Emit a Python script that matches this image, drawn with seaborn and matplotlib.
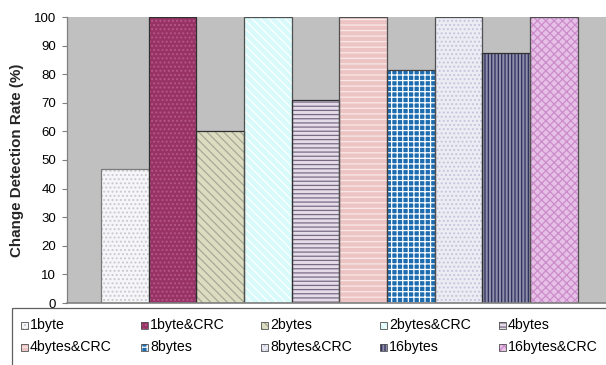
import matplotlib
matplotlib.use("Agg")
import matplotlib.pyplot as plt
from matplotlib.patches import Rectangle
import seaborn as sns
import pandas as pd

# Detection results per check size
series = ["1byte", "1byte&CRC", "2bytes", "2bytes&CRC", "4bytes",
          "4bytes&CRC", "8bytes", "8bytes&CRC", "16bytes", "16bytes&CRC"]
rates = [47, 100, 60, 100, 71, 100, 81.5, 100, 87.3, 100]
y_ticks = [0, 10, 20, 30, 40, 50, 60, 70, 80, 90, 100]

# Fill styling: base colour, pattern colour, pattern, outline
face_colors = ["#f6f6f8", "#993366", "#dcdcc0", "#d8fafa", "#e4dce6",
               "#ecc4c4", "#1e6cb0", "#ececf4", "#8e8eaa", "#e6c0e6"]
hatch_colors = ["#c8c8d0", "#b4588a", "#a8a898", "#ffffff", "#7a6a88",
                "#fbe8e8", "#ffffff", "#c4c4dc", "#2e2e5c", "#cc8ccc"]
hatches = ["....", "....", "\\\\\\\\", "\\\\\\\\", "----",
           "---", "+++", "....", "|||||", "xxxx"]
outline_colors = ["#7a7a7a", "#303030", "#303030", "#505050", "#303030",
                  "#505050", "#404040", "#505050", "#303030", "#505050"]

df = pd.DataFrame({"series": series, "rate": rates})

sns.set_theme(style="white")
plt.rcParams["font.family"] = ["Liberation Sans", "DejaVu Sans"]
plt.rcParams["hatch.linewidth"] = 0.9

W, H = 606, 365
fig = plt.figure(figsize=(W / 100, H / 100), dpi=100)
ax = fig.add_axes([67 / W, 62 / H, 1 - 67 / W, 286 / H])
ax.set_facecolor("#c0c0c0")

sns.barplot(data=df, x="series", y="rate", hue="series", palette=face_colors,
            width=1.0, legend=False, ax=ax, saturation=1)

for p, fc, hc, h, oc in zip(ax.patches, face_colors, hatch_colors, hatches,
                            outline_colors):
    p.set_facecolor(fc)
    p.set_edgecolor(hc)
    p.set_hatch(h)
    p.set_linewidth(0)
    ax.add_patch(Rectangle((p.get_x(), p.get_y()), p.get_width(),
                           p.get_height(), fill=False, edgecolor=oc,
                           linewidth=0.9, zorder=p.get_zorder() + 0.1))

ax.set_xlim(-1.21, 10.09)
ax.set_ylim(0, 100)
ax.set_yticks(y_ticks)
ax.set_yticklabels([str(v) for v in y_ticks], fontsize=9.5, color="#000000")
ax.set_xticks([])
ax.set_xlabel("")
ax.set_ylabel("Change Detection Rate (%)", fontsize=10.9, fontweight="bold")
ax.yaxis.set_label_coords(-43 / 539, 0.5)
ax.tick_params(axis="y", direction="out", length=3.6, width=0.8,
               color="#808080", pad=4.3, left=True)
for side in ["top", "right"]:
    ax.spines[side].set_visible(False)
ax.spines["left"].set_color("#808080")
ax.spines["bottom"].set_color("#808080")
ax.spines["left"].set_linewidth(0.9)
ax.spines["bottom"].set_linewidth(1.2)

# Legend box across the bottom of the figure
fig.patches.append(Rectangle((12 / W, -0.02), 1.0, (H - 308) / H + 0.02,
                             transform=fig.transFigure, fill=True,
                             facecolor="white", edgecolor="#606060",
                             linewidth=0.9))
col_x = [21, 141, 261, 380, 499]
row_y = [325, 347]
for i, (name, fc, hc, h) in enumerate(zip(series, face_colors, hatch_colors,
                                          hatches)):
    cx = col_x[i % 5]
    cy = row_y[i // 5]
    fig.patches.append(Rectangle((cx / W, (H - cy - 3.5) / H), 7 / W, 7 / H,
                                 transform=fig.transFigure, facecolor=fc,
                                 edgecolor=hc, hatch=h, linewidth=0))
    fig.patches.append(Rectangle((cx / W, (H - cy - 3.5) / H), 7 / W, 7 / H,
                                 transform=fig.transFigure, fill=False,
                                 edgecolor="#505050", linewidth=0.6))
    fig.text((cx + 9) / W, (H - cy) / H, name, fontsize=10.2,
             va="center", ha="left", color="#000000")

fig.savefig("out.png", dpi=100)
